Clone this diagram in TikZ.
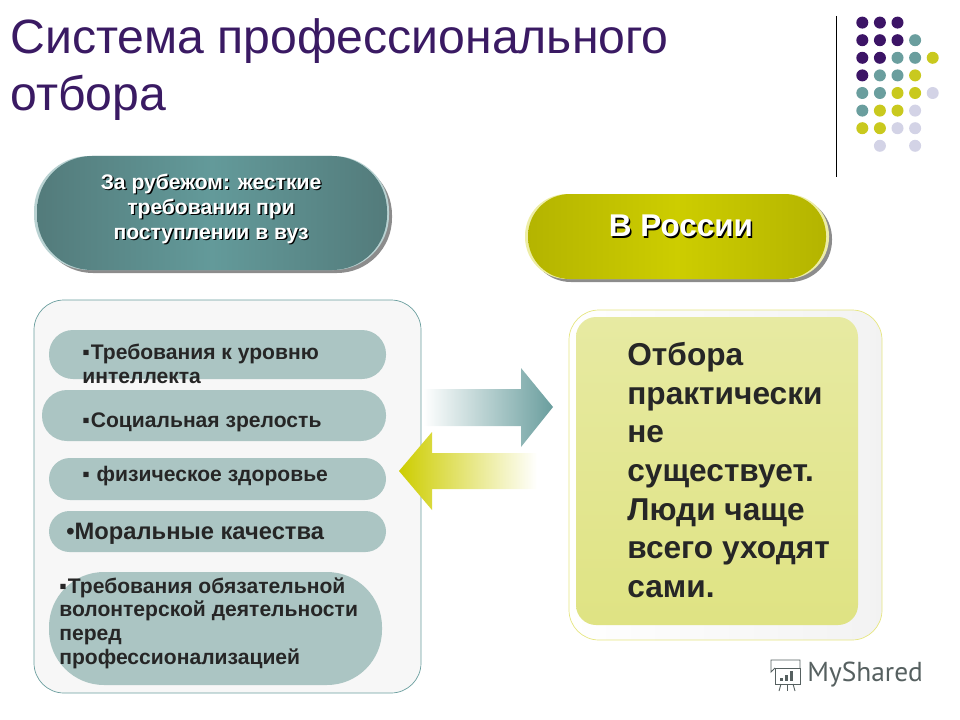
\documentclass[tikz,border=0pt]{standalone}
\usepackage{fontspec}
\setmainfont{Liberation Sans}
\newfontfamily\markfont{PT Sans}
\definecolor{titlepurple}{HTML}{3A1A63}
\definecolor{dotpurple}{HTML}{3C1466}
\definecolor{dotteal}{HTML}{6A9E9E}
\definecolor{dotyellow}{HTML}{C9C91E}
\definecolor{dotlav}{HTML}{D3D3E6}
\definecolor{tealdark}{HTML}{537B7B}
\definecolor{teallight}{HTML}{639A9A}
\definecolor{yelldark}{HTML}{B4B400}
\definecolor{yelllight}{HTML}{CDCD00}
\definecolor{softpill}{HTML}{ABC5C3}
\definecolor{paneltop}{HTML}{E7EAA2}
\definecolor{panelbottom}{HTML}{DFE383}
\definecolor{markgrey}{HTML}{566060}
\newcommand{\sdw}[1]{\makebox[0pt][l]{\kern.8pt\raisebox{-.8pt}{\textcolor{black}{#1}}}#1}
\tikzset{
    itemtext/.style={anchor=north west, align=left, inner sep=0pt, text=black!85, font=\fontsize{12}{13.6}\selectfont\bfseries},
    headtext/.style={align=center, inner sep=0pt, text=white, font=\bfseries},
}
\begin{document}
\begin{tikzpicture}[x=0.2mm, y=-0.2mm]
        \useasboundingbox (0, 0) rectangle (960, 720);

        % ===== TITLE =====
        \node[anchor=north west, align=left, inner sep=0pt, text=titlepurple, font=\fontsize{27.4}{32.5}\selectfont] (title) at (10, 18)
            {Система профессионального\\отбора};

        % ===== CORNER DOTS =====
        \draw[black, thin] (836, 16) -- (836, 177);
        \foreach \cx/\cy/\clr in {1/1/dotpurple, 2/1/dotpurple, 3/1/dotpurple,
                1/2/dotpurple, 2/2/dotpurple, 3/2/dotpurple, 4/2/dotteal,
                1/3/dotpurple, 2/3/dotpurple, 3/3/dotteal, 4/3/dotteal, 5/3/dotyellow,
                1/4/dotpurple, 2/4/dotteal, 3/4/dotteal, 4/4/dotyellow,
                1/5/dotteal, 2/5/dotteal, 3/5/dotyellow, 4/5/dotyellow, 5/5/dotlav,
                1/6/dotteal, 2/6/dotyellow, 3/6/dotyellow, 4/6/dotlav,
                1/7/dotyellow, 2/7/dotyellow, 3/7/dotlav, 4/7/dotlav,
                2/8/dotlav, 4/8/dotlav}
            \fill[\clr] ({844.7+17.6*\cx}, {5+17.6*\cy}) circle (1.2mm);

        % ===== HEADER PILLS =====
        % abroad
        \fill[black!45, rounded corners=11mm] (38, 160) rectangle (392, 273);
        \fill[teallight!45, rounded corners=11mm] (34, 156) rectangle (389, 270);
        \shade[left color=tealdark, right color=tealdark, middle color=teallight, rounded corners=11mm] (37, 156) rectangle (387, 270);
        \node[headtext, font=\fontsize{12}{14.2}\selectfont\bfseries] (abroad) at (211, 209.5)
            {\sdw{За рубежом: жесткие}\\\sdw{требования при}\\\sdw{поступлении в вуз}};
        % russia
        \fill[black!45, rounded corners=8.4mm] (529, 197) rectangle (832, 282);
        \fill[yelllight!35, rounded corners=8.4mm] (525, 194) rectangle (829, 279);
        \shade[left color=yelldark, right color=yelldark, middle color=yelllight, rounded corners=8.4mm] (528, 194) rectangle (826, 279);
        \node[headtext, font=\fontsize{17.9}{19}\selectfont\bfseries] (russia) at (681, 227) {\sdw{В России}};

        % ===== LEFT PANEL =====
        \draw[dotteal, fill=black!3, rounded corners=6mm] (34, 300) rectangle (421, 693);
        \fill[softpill, rounded corners=4.8mm] (49, 330) rectangle (386, 379);
        \fill[softpill, rounded corners=5mm] (42, 390) rectangle (386, 441);
        \fill[softpill, rounded corners=4.2mm] (49, 458) rectangle (386, 500);
        \fill[softpill, rounded corners=4.1mm] (49, 511) rectangle (386, 552);
        \fill[softpill, rounded corners=11mm] (49, 572) rectangle (382, 685);

        \node[itemtext] (intellect) at (82, 344) {▪\kern.6ptТребования к уровню\\интеллекта};
        \node[itemtext] (maturity) at (82, 412) {▪\kern.6ptСоциальная зрелость};
        \node[itemtext] (health) at (82, 465.5) {▪ \kern.6ptфизическое здоровье};
        \node[itemtext, font=\fontsize{13.5}{15}\selectfont\bfseries] (moral) at (66, 523) {•Моральные качества};
        \node[itemtext] (volunteer) at (59, 577) {▪\kern.6ptТребования обязательной\\волонтерской деятельности\\перед\\профессионализацией};

        % ===== BLOCK ARROWS =====
        \shade[left color=white, right color=dotteal, shading angle=90]
            (423, 389) -- (521, 389) -- (521, 368) -- (553, 407) -- (521, 447) -- (521, 426) -- (423, 426) -- cycle;
        \shade[left color=yelllight, right color=white]
            (399, 471) -- (432, 432) -- (432, 453) -- (537, 453) -- (537, 489) -- (432, 489) -- (432, 510) -- cycle;

        % ===== RIGHT PANEL =====
        \draw[yelllight!50, left color=white, right color=black!5, rounded corners=6mm] (569, 310) rectangle (882, 640);
        \shade[top color=paneltop, bottom color=panelbottom, rounded corners=4mm] (576, 317) rectangle (858, 625);
        \node[anchor=north west, align=left, inner sep=0pt, text=black!85, font=\fontsize{18}{22}\selectfont\bfseries] (verdict) at (627, 342)
            {Отбора\\практически\\не\\существует.\\Люди чаще\\всего уходят\\сами.};

        % ===== WATERMARK =====
        \draw[markgrey, line width=0.5pt] (775, 668) rectangle (800, 684);
        \draw[markgrey, line width=0.5pt] (775, 668) -- (771, 672) -- (771, 660) -- (800, 660) -- (800, 668);
        \fill[markgrey] (780, 678) rectangle (783, 681);
        \fill[markgrey] (785, 675) rectangle (788, 681);
        \fill[markgrey] (790, 671) rectangle (793, 681);
        \draw[markgrey, line width=0.5pt] (781, 684) -- (779, 691);
        \draw[markgrey, line width=0.5pt] (787, 684) -- (787, 691);
        \draw[markgrey, line width=0.5pt] (793, 684) -- (795, 691);
        \node[anchor=west, inner sep=0pt, text=markgrey, font=\fontsize{15.6}{18}\selectfont\markfont] (brand) at (807, 675) {MyShared};

    \end{tikzpicture}
\end{document}
